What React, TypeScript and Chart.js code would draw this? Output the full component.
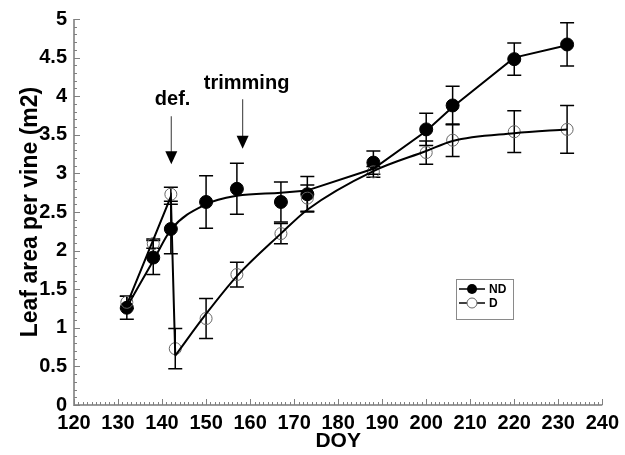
import React, { useEffect, useRef } from "react";
import { Chart, registerables } from "chart.js";
Chart.register(...registerables);

// Observed data (DOY, leaf area per vine m2, standard error)
const ndDoy = [132, 138, 142, 150, 157, 167, 173, 188, 200, 206, 220, 232];
const ndArea = [1.26, 1.91, 2.28, 2.63, 2.80, 2.63, 2.73, 3.14, 3.57, 3.88, 4.48, 4.67];
const ndErr = [0.15, 0.22, 0.32, 0.34, 0.33, 0.26, 0.23, 0.15, 0.21, 0.25, 0.21, 0.28];

const dDoy = [132, 138, 142, 143, 150, 157, 167, 173, 188, 200, 206, 220, 232];
const dArea = [1.33, 2.09, 2.73, 0.73, 1.12, 1.69, 2.22, 2.68, 3.02, 3.27, 3.43, 3.54, 3.57];
const dErr = [0.08, 0.06, 0.09, 0.26, 0.26, 0.16, 0.13, 0.17, 0.07, 0.15, 0.21, 0.27, 0.31];

// Fitted curves
const ndFit1Doy = [132, 138, 142, 150, 157, 167, 173];
const ndFit1Area = [1.27, 1.87, 2.27, 2.60, 2.71, 2.75, 2.78];
const ndFit2Doy = [173, 188, 200, 206, 220, 232];
const ndFit2Area = [2.78, 3.06, 3.55, 3.86, 4.50, 4.66];
const dFit1Doy = [132, 142, 143];
const dFit1Area = [1.30, 2.70, 0.64];
const dFit2Doy = [143, 150, 157, 167, 173, 188, 200, 206, 220, 232];
const dFit2Area = [0.64, 1.18, 1.67, 2.22, 2.53, 3.03, 3.29, 3.42, 3.52, 3.57];

// Annotations: label, DOY of arrow, label value, arrow top, arrow tip
const noteLabels = ["def.", "trimming"];
const noteTextDoy = [142.4, 159.2];
const noteTextVal = [3.96, 4.16];
const noteArrowDoy = [142.1, 158.3];
const noteArrowTop = [3.74, 3.96];
const noteArrowTip = [3.12, 3.32];

const seriesNames = ["ND", "D"];
const xTitle = "DOY";
const yTitle = "Leaf area per vine (m2)";

const FONT = "'Liberation Sans', Arial, sans-serif";
const pts = (xs: number[], ys: number[]) => xs.map((x, i) => ({ x, y: ys[i] }));

export default function App() {
  const ref = useRef<HTMLCanvasElement | null>(null);
  useEffect(() => {
    const canvas = ref.current;
    if (!canvas) return;

    const plugin = {
      id: "customDraw",
      beforeDatasetsDraw(chart: any) {
        const ctx = chart.ctx;
        const xs = chart.scales.x;
        const ys = chart.scales.y;
        const { left, bottom, right, top } = chart.chartArea;
        ctx.save();
        // axes
        ctx.strokeStyle = "#9a9a9a";
        ctx.lineWidth = 2;
        ctx.beginPath();
        ctx.moveTo(left, top);
        ctx.lineTo(left, bottom);
        ctx.lineTo(right, bottom);
        ctx.stroke();
        // ticks
        ctx.lineWidth = 1;
        ctx.strokeStyle = "#808080";
        ctx.beginPath();
        for (let v = 120; v <= 240; v += 1) {
          const px = Math.round(xs.getPixelForValue(v)) + 0.5;
          const len = v % 10 === 0 ? 6 : 3;
          ctx.moveTo(px, bottom);
          ctx.lineTo(px, bottom - len);
        }
        for (let k = 0; k <= 50; k++) {
          const py = Math.round(ys.getPixelForValue(k / 10)) + 0.5;
          const len = k % 5 === 0 ? 6 : 3;
          ctx.moveTo(left, py);
          ctx.lineTo(left + len, py);
        }
        ctx.stroke();

        // error bars
        ctx.strokeStyle = "#000";
        ctx.lineWidth = 1.5;
        const cap = 7;
        const drawErr = (xv: number[], yv: number[], ev: number[]) => {
          ctx.beginPath();
          xv.forEach((x, i) => {
            const px = xs.getPixelForValue(x);
            const y1 = ys.getPixelForValue(yv[i] + ev[i]);
            const y2 = ys.getPixelForValue(yv[i] - ev[i]);
            ctx.moveTo(px, y1);
            ctx.lineTo(px, y2);
            ctx.moveTo(px - cap, y1);
            ctx.lineTo(px + cap, y1);
            ctx.moveTo(px - cap, y2);
            ctx.lineTo(px + cap, y2);
          });
          ctx.stroke();
        };
        drawErr(dDoy, dArea, dErr);
        drawErr(ndDoy, ndArea, ndErr);
        ctx.restore();
      },
      afterDraw(chart: any) {
        const ctx = chart.ctx;
        const xs = chart.scales.x;
        const ys = chart.scales.y;
        ctx.save();
        // annotations
        ctx.font = `bold 20px ${FONT}`;
        ctx.fillStyle = "#000";
        ctx.textAlign = "center";
        ctx.textBaseline = "middle";
        noteLabels.forEach((t, i) => {
          ctx.fillText(t, xs.getPixelForValue(noteTextDoy[i]), ys.getPixelForValue(noteTextVal[i]));
          const ax = xs.getPixelForValue(noteArrowDoy[i]);
          const aTop = ys.getPixelForValue(noteArrowTop[i]);
          const aTip = ys.getPixelForValue(noteArrowTip[i]);
          ctx.strokeStyle = "#555";
          ctx.lineWidth = 1.2;
          ctx.beginPath();
          ctx.moveTo(ax, aTop);
          ctx.lineTo(ax, aTip - 10);
          ctx.stroke();
          ctx.beginPath();
          ctx.moveTo(ax - 6, aTip - 13);
          ctx.lineTo(ax + 6, aTip - 13);
          ctx.lineTo(ax, aTip);
          ctx.closePath();
          ctx.fill();
        });
        // legend
        const bx = 456, by = 279, bw = 57, bh = 40;
        ctx.strokeStyle = "#8a8a8a";
        ctx.lineWidth = 1;
        ctx.strokeRect(bx + 0.5, by + 0.5, bw, bh);
        ctx.font = `bold 12px ${FONT}`;
        ctx.textAlign = "left";
        seriesNames.forEach((name, i) => {
          const ly = by + 10 + i * 14;
          ctx.strokeStyle = "#000";
          ctx.lineWidth = 1.5;
          ctx.beginPath();
          ctx.moveTo(bx + 3, ly);
          ctx.lineTo(bx + 29, ly);
          ctx.stroke();
          ctx.beginPath();
          ctx.arc(bx + 16, ly, 5, 0, Math.PI * 2);
          if (i === 0) {
            ctx.fillStyle = "#000";
            ctx.fill();
          } else {
            ctx.fillStyle = "#fff";
            ctx.fill();
            ctx.strokeStyle = "#666";
            ctx.lineWidth = 1;
            ctx.stroke();
          }
          ctx.fillStyle = "#000";
          ctx.fillText(name, bx + 33, ly + 1);
        });
        ctx.restore();
      },
    };

    const tickFont = { family: FONT, size: 20, weight: "bold" as const };
    const fitLine = (xv: number[], yv: number[], curved: boolean) => ({
      data: pts(xv, yv),
      showLine: true,
      borderColor: "#000",
      borderWidth: 2,
      pointRadius: 0,
      tension: 0,
      cubicInterpolationMode: curved ? "monotone" : "default",
    });
    const chart = new Chart(canvas, {
      type: "scatter",
      data: {
        datasets: [
          { label: "ND fit 1", ...fitLine(ndFit1Doy, ndFit1Area, true) },
          { label: "ND fit 2", ...fitLine(ndFit2Doy, ndFit2Area, false) },
          { label: "D fit 1", ...fitLine(dFit1Doy, dFit1Area, false) },
          { label: "D fit 2", ...fitLine(dFit2Doy, dFit2Area, true) },
          {
            label: "D",
            data: pts(dDoy, dArea),
            showLine: false,
            pointRadius: 6,
            pointBackgroundColor: "rgba(255,255,255,0)",
            pointBorderColor: "#666",
            pointBorderWidth: 1,
          },
          {
            label: "ND",
            data: pts(ndDoy, ndArea),
            showLine: false,
            pointRadius: 6.5,
            pointBackgroundColor: "#000",
            pointBorderColor: "#000",
            pointBorderWidth: 1,
          },
        ],
      },
      options: {
        animation: false,
        responsive: true,
        maintainAspectRatio: false,
        layout: { padding: { left: 0, right: 21, top: 17, bottom: 0 } },
        plugins: { legend: { display: false }, tooltip: { enabled: false } },
        scales: {
          x: {
            type: "linear",
            min: 120,
            max: 240,
            ticks: { stepSize: 10, font: tickFont, color: "#000", padding: 6, maxRotation: 0, autoSkip: false },
            grid: { display: false, drawTicks: false },
            border: { display: false },
            title: {
              display: true,
              text: xTitle,
              color: "#000",
              font: { family: FONT, size: 21, weight: "bold", lineHeight: 1 },
              padding: { top: 0, bottom: 3 },
            },
            afterFit: (s: any) => {
              s.height = 50;
            },
          },
          y: {
            type: "linear",
            min: 0,
            max: 5,
            ticks: {
              stepSize: 0.5,
              font: tickFont,
              color: "#000",
              padding: 7,
              callback: (v: any) => String(Math.round(Number(v) * 10) / 10),
            },
            grid: { display: false, drawTicks: false },
            border: { display: false },
            title: {
              display: true,
              text: yTitle,
              color: "#000",
              font: { family: FONT, size: 23, weight: "bold", lineHeight: 1 },
              padding: { top: 19, bottom: 0 },
            },
            afterFit: (s: any) => {
              s.width = 74;
            },
          },
        },
      },
      plugins: [plugin],
    } as any);
    return () => chart.destroy();
  }, []);

  return (
    <div style={{ position: "fixed", left: 0, top: 0, width: 625, height: 455, background: "#fff" }}>
      <canvas ref={ref} />
    </div>
  );
}
